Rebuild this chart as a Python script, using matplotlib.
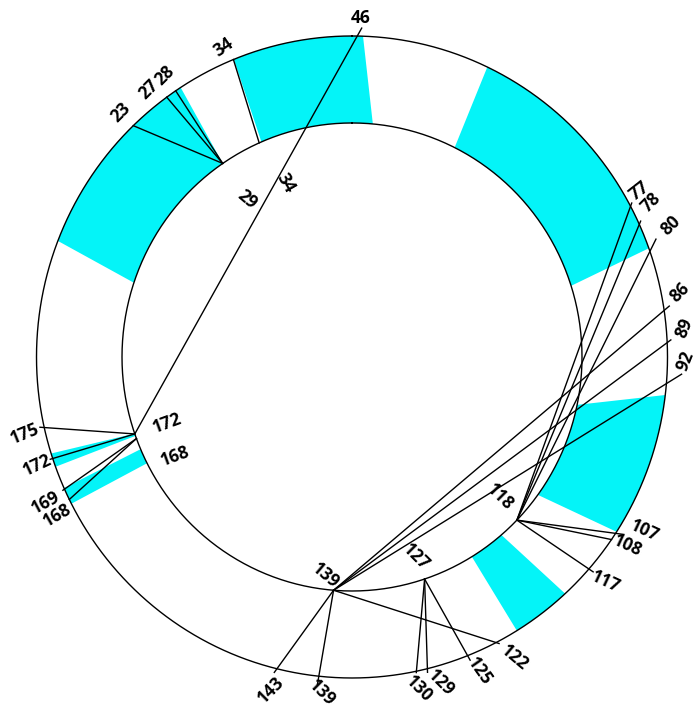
import numpy as np
import matplotlib
matplotlib.use("Agg")
import matplotlib.pyplot as plt
from matplotlib.patches import Polygon

# ---- data -------------------------------------------------------------
# outer ring: residue numbering, degrees per residue and start angle
deg_per_res = 1.983
start_deg = -89.5          # angle of residue 0, clockwise from 12 o'clock

# inner anchor sites (label, angle clockwise from 12 o'clock)
inner_sites = ["29", "34", "118", "127", "139", "172", "168"]
inner_angle = [-34.2, -23.8, 134.2, 161.6, 184.6, 250.8, 249.6]

# contacts: outer residue -> inner site
outer_res = [23, 27, 28, 34, 46, 77, 78, 80, 86, 89, 92, 107, 108, 117,
             122, 125, 129, 130, 139, 143, 168, 169, 172, 175]
partner = ["29", "29", "29", "34", "172", "118", "118", "118", "139", "139",
           "139", "118", "118", "118", "139", "127", "127", "127", "139",
           "139", "168", "168", "172", "172"]

# shaded segments: (outer start, outer end) / (inner start, inner end), degrees
band_outer = [(-68.8, -32.9), (-22.0, 2.0), (25.4, 70.2), (96.8, 123.0),
              (137.5, 148.5), (250.0, 252.5), (242.8, 245.9)]
band_inner = [(-71.5, -34.2), (-23.2, 5.2), (26.5, 72.3), (101.8, 126.1),
              (139.5, 148.6), (250.3, 250.9), (243.0, 246.8)]

# ---- layout -----------------------------------------------------------
R_OUT = 1.0
R_IN = 0.729
CYAN = "#04F4F8"

# leader length beyond the outer ring and angular shift of crowded leaders
leader_r = [1.0, 1.0, 1.0, 1.0, 1.025, 1.008, 1.008, 1.031, 1.018, 1.012,
            1.046, 1.024, 1.0, 1.016, 1.007, 1.016, 1.011, 1.004, 1.027,
            1.013, 1.0, 1.006, 1.008, 1.013]
leader_shift = {77: -1.6, 117: -11.3}

# label placement (x, y) and rotation for outer and inner numbers
outer_lbl_xy = [(-0.7322, 0.7617), (-0.6434, 0.8318), (-0.5927, 0.8754),
                (-0.4057, 0.9642), (0.0285, 1.0561), (0.9097, 0.5171),
                (0.9477, 0.4813), (1.0111, 0.4112), (1.0396, 0.2025),
                (1.0540, 0.0903), (1.0560, -0.0125), (0.9287, -0.5421),
                (0.8748, -0.5888), (0.8051, -0.7009), (0.5166, -0.9377),
                (0.4057, -0.9782), (0.2821, -1.0156), (0.2124, -1.0343),
                (-0.0951, -1.0480), (-0.2567, -1.0380), (-0.9350, -0.4922),
                (-0.9699, -0.4548), (-0.9984, -0.3364), (-1.0365, -0.2399)]
outer_lbl_rot = [45, 45, 45, 35, 0, 38, 45, 45, 45, 68, 68, -25, -25, -25,
                 -40, -55, -45, -45, -45, 45, 30, 28, 25, 22]
inner_lbl_xy = [(-0.3312, 0.4891), (-0.2098, 0.5411), (0.4691, -0.4361),
                (0.2029, -0.6231), (-0.0824, -0.6822), (-0.5864, -0.2056),
                (-0.5610, -0.3084)]
inner_lbl_rot = [-40, -60, -45, -45, -40, 20, 20]


def pt(theta_deg, r):
    t = np.deg2rad(theta_deg)
    return r * np.sin(t), r * np.cos(t)


def res_angle(res):
    return start_deg + deg_per_res * res


fig = plt.figure(figsize=(6.97, 7.09), dpi=100)
ax = fig.add_axes([0, 0, 1, 1])
ax.set_xlim(-1.1157, 1.0935)
ax.set_ylim(-1.0966, 1.1121)
ax.axis("off")

# shaded segments between the two rings
for (o0, o1), (i0, i1) in zip(band_outer, band_inner):
    to = np.linspace(o0, o1, 60)
    ti = np.linspace(i1, i0, 60)
    xo, yo = pt(to, R_OUT)
    xi, yi = pt(ti, R_IN)
    poly = Polygon(np.column_stack([np.r_[xo, xi], np.r_[yo, yi]]),
                   closed=True, facecolor=CYAN, edgecolor="none", zorder=1)
    ax.add_patch(poly)

# the two rings
tt = np.linspace(0, 360, 721)
for r in (R_OUT, R_IN):
    x, y = pt(tt, r)
    ax.plot(x, y, color="black", lw=1.0, zorder=3)

# contact lines
site_angle = dict(zip(inner_sites, inner_angle))
for res, site, rl in zip(outer_res, partner, leader_r):
    x0, y0 = pt(res_angle(res) + leader_shift.get(res, 0.0), R_OUT * rl)
    x1, y1 = pt(site_angle[site], R_IN)
    ax.plot([x0, x1], [y0, y1], color="black", lw=1.0, zorder=4)

font = dict(family=["Open Sans", "DejaVu Sans"], fontsize=12.5,
            fontweight="bold", color="black", ha="center", va="center",
            zorder=5)
for res, (x, y), rot in zip(outer_res, outer_lbl_xy, outer_lbl_rot):
    ax.text(x, y, str(res), rotation=rot, rotation_mode="anchor", **font)
for lab, (x, y), rot in zip(inner_sites, inner_lbl_xy, inner_lbl_rot):
    ax.text(x, y, lab, rotation=rot, rotation_mode="anchor", **font)

fig.savefig("out.png", dpi=100)
